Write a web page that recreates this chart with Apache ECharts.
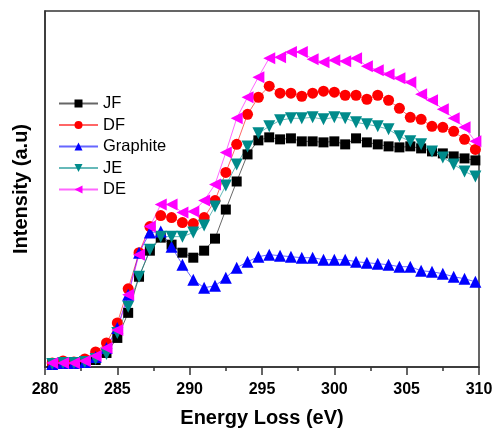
<!DOCTYPE html>
<html>
<head>
<meta charset="utf-8">
<script src="https://cdn.jsdelivr.net/npm/echarts@6/dist/echarts.min.js"></script>
<style>
  html, body { margin: 0; padding: 0; background: #fff; }
  #chart { width: 495px; height: 429px; }
</style>
</head>
<body>
<div id="chart"></div>
<script>
const energy = [280.5, 281.25, 282, 282.75, 283.5, 284.25, 285, 285.75, 286.5, 287.25,
  288, 288.75, 289.5, 290.25, 291, 291.75, 292.5, 293.25, 294, 294.75,
  295.5, 296.25, 297, 297.75, 298.5, 299.25, 300, 300.75, 301.5, 302.25,
  303, 303.75, 304.5, 305.25, 306, 306.75, 307.5, 308.25, 309, 309.75];

const jf = [3, 3, 4, 5, 7, 14, 29, 54, 90, 116, 129, 122, 114, 109, 116, 128, 157, 185, 212, 226,
  229, 227, 228, 225, 225, 224, 225, 222, 228, 224, 222, 220, 219, 220, 218, 215, 213, 210, 208, 206];
const df = [4, 6, 5, 8, 15, 24, 44, 78, 114, 140, 151, 149, 144, 143, 149, 166, 194, 222, 252, 269,
  280, 273, 273, 270, 273, 275, 274, 271, 271, 267, 271, 266, 258, 249, 247, 240, 239, 235, 227, 217];
const graphite = [3, 4, 4, 5, 10, 19, 39, 72, 114, 134, 135, 120, 102, 87, 79, 81, 89, 99, 105, 110,
  112, 111, 110, 109, 109, 107, 107, 107, 105, 104, 103, 102, 100, 100, 96, 95, 93, 90, 88, 85];
const je = [3, 4, 4, 5, 8, 13, 34, 60, 90, 117, 130, 130, 130, 134, 141, 160, 181, 202, 220, 233,
  240, 246, 248, 248, 249, 247, 249, 248, 244, 242, 240, 237, 230, 225, 222, 215, 209, 202, 195, 190];
const de = [4, 4, 4, 6, 11, 19, 37, 72, 112, 140, 162, 162, 154, 155, 166, 182, 214, 248, 269, 289,
  308, 309, 314, 314, 307, 304, 306, 305, 308, 300, 296, 292, 288, 284, 272, 266, 257, 248, 239, 225];

const names = ['JF', 'DF', 'Graphite', 'JE', 'DE'];
const values = [jf, df, graphite, je, de];
const colors = ['#000000', '#ff0000', '#0000ff', '#008b8b', '#ff00ff'];
const symbols = ['rect', 'circle', 'triangle', 'triangle', 'triangle'];
const rotations = [0, 0, 0, 180, 90];
const sizes = [10, 11, 12, 12, 12];

const font = 'Arial, "Liberation Sans", sans-serif';

const chart = echarts.init(document.getElementById('chart'));

const series = names.map((name, i) => ({
  name: name,
  type: 'line',
  data: energy.map((e, j) => [e, values[i][j]]),
  symbol: symbols[i],
  symbolRotate: rotations[i],
  symbolSize: sizes[i],
  showAllSymbol: true,
  color: colors[i],
  lineStyle: { width: 1, color: colors[i], opacity: 0.6 },
  itemStyle: { color: colors[i] },
  animation: false
}));

chart.setOption({
  animation: false,
  grid: {
    left: 45, right: 16, top: 11, bottom: 62,
    containLabel: false,
    outerBoundsMode: 'none',
    show: true, borderColor: '#333', borderWidth: 1.5, backgroundColor: 'transparent'
  },
  legend: {
    orient: 'vertical',
    left: 53,
    top: 90,
    itemWidth: 39,
    itemHeight: 10,
    itemGap: 4.5,
    data: names,
    textStyle: { fontFamily: font, fontSize: 16.5, color: '#000' }
  },
  xAxis: {
    type: 'value',
    min: 280,
    max: 310,
    interval: 5,
    name: 'Energy Loss (eV)',
    nameLocation: 'middle',
    nameGap: 41,
    nameTextStyle: { fontFamily: font, fontSize: 20, fontWeight: 'bold', color: '#000' },
    axisLine: { show: true, onZero: false, lineStyle: { color: '#333', width: 1.5 } },
    axisTick: { show: true, inside: false, length: 8, lineStyle: { color: '#333', width: 1.5 } },
    minorTick: { show: true, splitNumber: 2, length: 4, lineStyle: { color: '#333', width: 1.5 } },
    splitLine: { show: false },
    axisLabel: {
      margin: 15, fontFamily: font, fontSize: 16, fontWeight: 'bold', color: '#000',
      showMinLabel: true, showMaxLabel: true
    }
  },
  yAxis: {
    type: 'value',
    min: 0,
    max: 355,
    name: 'Intensity (a.u)',
    nameLocation: 'middle',
    nameGap: 14,
    nameTextStyle: { fontFamily: font, fontSize: 20, fontWeight: 'bold', color: '#000' },
    axisLine: { show: true, lineStyle: { color: '#333', width: 1.5 } },
    axisTick: { show: false },
    axisLabel: { show: false },
    splitLine: { show: false }
  },
  series: series
});
</script>
</body>
</html>
